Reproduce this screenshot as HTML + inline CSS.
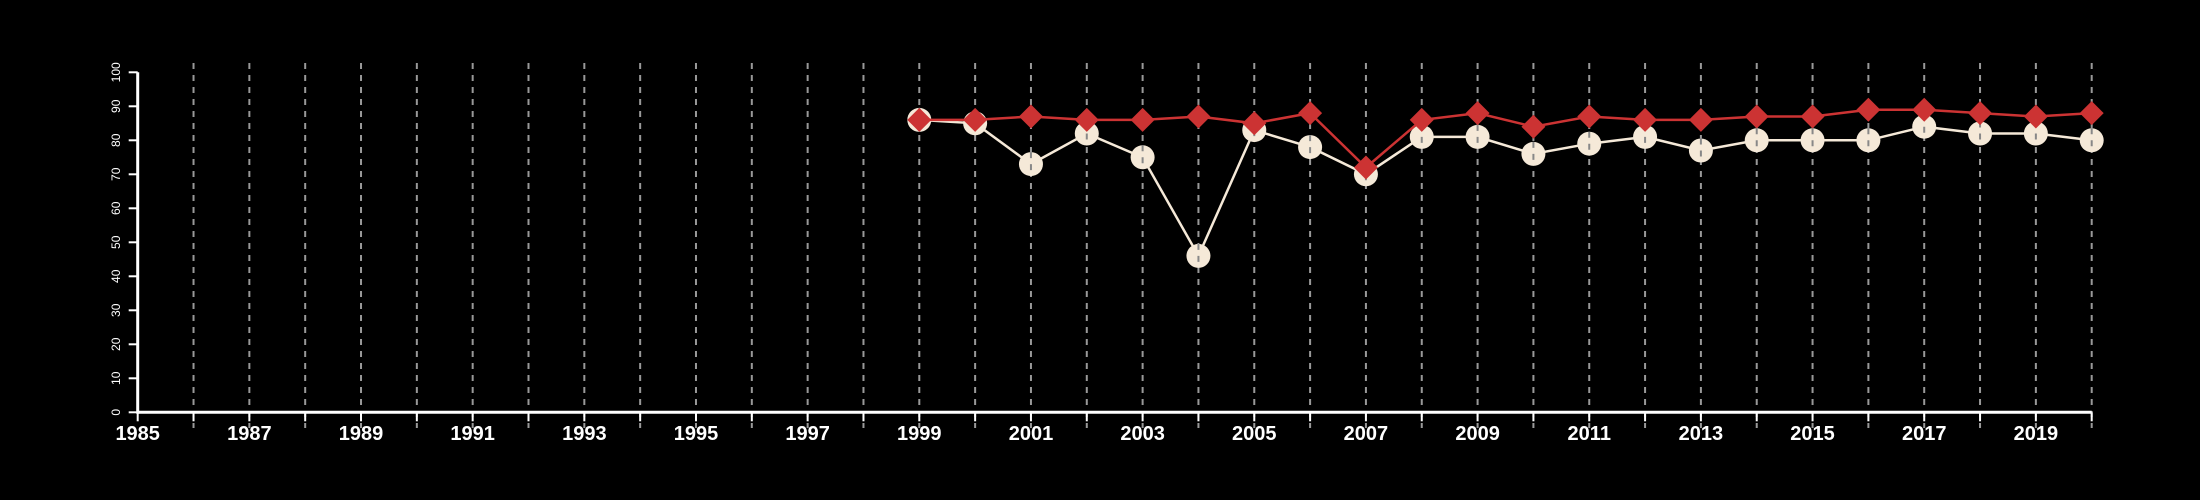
<!DOCTYPE html>
<html><head><meta charset="utf-8"><style>
html,body{margin:0;padding:0;background:#000;}
svg{display:block;font-family:"Liberation Sans",sans-serif;}
</style></head><body>
<svg id="chart" width="2200" height="500" viewBox="0 0 2200 500" xmlns="http://www.w3.org/2000/svg">
<rect width="2200" height="500" fill="#000"/>
<g id="grid"></g><g id="axes"></g><g id="series"></g>
</svg>
<script>
const years = [1999,2000,2001,2002,2003,2004,2005,2006,2007,2008,2009,2010,2011,2012,2013,2014,2015,2016,2017,2018,2019,2020];
const circleValues = [86,85,73,82,75,46,83,78,70,81,81,76,79,81,77,80,80,80,84,82,82,80];
const diamondValues = [86,86,87,86,86,87,85,88,72,86,88,84,87,86,86,87,87,89,89,88,87,88];
const yTicks = [0,10,20,30,40,50,60,70,80,90,100];
const xTickYears = [1985,1986,1987,1988,1989,1990,1991,1992,1993,1994,1995,1996,1997,1998,1999,2000,2001,2002,2003,2004,2005,2006,2007,2008,2009,2010,2011,2012,2013,2014,2015,2016,2017,2018,2019,2020];

const NS="http://www.w3.org/2000/svg";
const X0=137.7, X1=2091.7, Y0=412.3, Y1=72.3;
const xs=v=>X0+(v-1985)/(2020-1985)*(X1-X0);
const ys=v=>Y0-v/100*(Y0-Y1);
function mk(t,a,p){const e=document.createElementNS(NS,t);for(const k in a)e.setAttribute(k,a[k]);p.appendChild(e);return e;}
const grid=document.getElementById('grid'),axes=document.getElementById('axes'),ser=document.getElementById('series');

xTickYears.forEach((yr,i)=>{
  if(i>0){
    const g=mk('line',{x1:xs(yr),x2:xs(yr),y1:63,y2:428,stroke:'#999','stroke-width':2,'stroke-dasharray':'6,6'},grid);
    
    
  }
  const t=mk('line',{x1:xs(yr),x2:xs(yr),y1:Y0,y2:Y0+9,stroke:'#fff','stroke-width':2},axes);
  
  
  if((yr-1985)%2===0){
    const l=mk('text',{x:xs(yr),y:440,fill:'#fff','font-size':20,'font-weight':'bold','text-anchor':'middle'},axes);
    l.textContent=yr;
    
    
  }
});
const xa=mk('line',{x1:X0,x2:X1,y1:Y0,y2:Y0,stroke:'#fff','stroke-width':3},axes);


const ya=mk('line',{x1:X0,x2:X0,y1:Y0+1.5,y2:Y1,stroke:'#fff','stroke-width':3},axes);


yTicks.forEach(v=>{
  const t=mk('line',{x1:X0-9,x2:X0,y1:ys(v),y2:ys(v),stroke:'#fff','stroke-width':2},axes);
  
  
  const l=mk('text',{x:0,y:0,fill:'#fff','font-size':12,'text-anchor':'middle',transform:`translate(120,${ys(v)}) rotate(-90)`},axes);
  l.textContent=v;
  
  
});

const cp=years.map((y,i)=>xs(y)+','+ys(circleValues[i])).join(' ');
const cl=mk('polyline',{points:cp,fill:'none',stroke:'#f5e9d8','stroke-width':2.5},ser);


years.forEach((y,i)=>{
  const c=mk('circle',{cx:xs(y),cy:ys(circleValues[i]),r:12,fill:'#f5e9d8'},ser);
  
  
  mk('line',{x1:xs(y),x2:xs(y),y1:ys(circleValues[i])-12,y2:ys(circleValues[i])+12,stroke:'#888','stroke-width':2,'stroke-dasharray':'6,6'},ser);
});
const dp=years.map((y,i)=>xs(y)+','+ys(diamondValues[i])).join(' ');
const dl=mk('polyline',{points:dp,fill:'none',stroke:'#cc3333','stroke-width':2.5},ser);


years.forEach((y,i)=>{
  const cx=xs(y),cy=ys(diamondValues[i]),r=12;
  const d=mk('polygon',{points:`${cx},${cy-r} ${cx+r},${cy} ${cx},${cy+r} ${cx-r},${cy}`,fill:'#cc3333'},ser);
  
  
});
</script>
</body></html>
